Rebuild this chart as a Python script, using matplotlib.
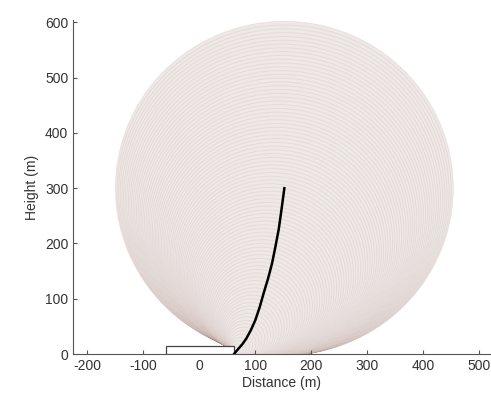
import numpy as np
import matplotlib
matplotlib.use("Agg")
import matplotlib.pyplot as plt
from matplotlib.patches import Circle, Rectangle

plt.rcParams['font.family'] = ['Liberation Sans', 'DejaVu Sans']
plt.rcParams['axes.unicode_minus'] = False

# trajectory
traj_x = [62, 66, 71, 77, 84, 92, 100, 108, 115, 123, 130, 136, 142, 147, 152]
traj_y = [0, 5, 11, 18, 28, 43, 61, 85, 110, 137, 164, 194, 226, 262, 300]

# pad outline
pad_x = [-60, 63]
pad_h = 15

n_rings = 90
ring_scale = 0.95

fig = plt.figure(figsize=(4.91, 4.08), dpi=100)
ax = fig.add_axes([0.149, 0.132, 0.85, 0.819])

# cumulative path length along trajectory
tx = np.array(traj_x, float)
ty = np.array(traj_y, float)
seg = np.hypot(np.diff(tx), np.diff(ty))
s = np.concatenate([[0], np.cumsum(seg)])
s_ring = np.linspace(s[-1] / n_rings, s[-1], n_rings)
cx = np.interp(s_ring, s, tx)
cy = np.interp(s_ring, s, ty)

for i in range(n_rings - 1, -1, -1):
    c = Circle((cx[i], cy[i]), ring_scale * s_ring[i],
               facecolor=(0.935, 0.915, 0.905),
               edgecolor=(0.50, 0.28, 0.24, 0.08),
               lw=0.8, zorder=1)
    ax.add_patch(c)

ax.add_patch(Rectangle((pad_x[0], 0), pad_x[1] - pad_x[0], pad_h,
                       facecolor='white', edgecolor='#444444', lw=0.9, zorder=3))
ax.plot(traj_x, traj_y, color='black', lw=1.8, zorder=4)

ax.set_xlim(-225, 520)
ax.set_ylim(0, 604)
ax.set_xticks([-200, -100, 0, 100, 200, 300, 400, 500])
ax.set_yticks([0, 100, 200, 300, 400, 500, 600])
for sp in ['top', 'right']:
    ax.spines[sp].set_visible(False)
for sp in ['left', 'bottom']:
    ax.spines[sp].set_color('#555555')
ax.tick_params(direction='in', length=3, colors='#555555', labelcolor='#333333',
               labelsize=10)
ax.set_xlabel('Distance (m)', fontsize=10, color='#333333', labelpad=2)
ax.set_ylabel('Height (m)', fontsize=10, color='#333333', labelpad=4)

fig.savefig('out.png', dpi=100)
